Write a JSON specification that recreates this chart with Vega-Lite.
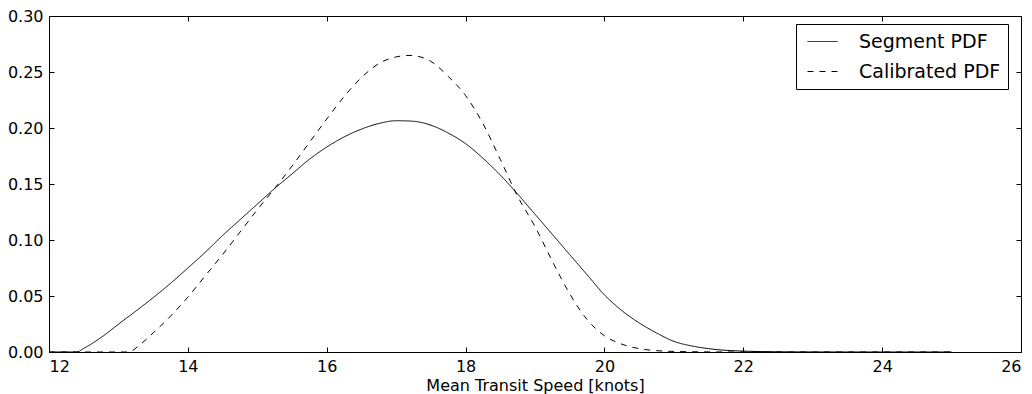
{
  "$schema": "https://vega.github.io/schema/vega-lite/v6.json",
  "width": 972,
  "height": 336,
  "autosize": "none",
  "padding": {"left": 49, "top": 16, "right": 11, "bottom": 42},
  "background": "white",
  "config": {
    "font": "DejaVu Sans",
    "view": {"stroke": "black", "strokeWidth": 1},
    "axis": {"grid": false, "domainColor": "black", "tickColor": "black", "labelColor": "black", "titleColor": "black", "labelFontSize": 16, "titleFontSize": 16, "titleFontWeight": "normal", "labelFont": "DejaVu Sans", "titleFont": "DejaVu Sans", "tickSize": -5, "labelPadding": 11}
  },
  "data": {"values": [
    {"x": 12.0, "y": 0, "s": "Segment PDF"},
    {"x": 12.4, "y": 0, "s": "Segment PDF"},
    {"x": 12.5, "y": 0.0032, "s": "Segment PDF"},
    {"x": 12.6, "y": 0.0068, "s": "Segment PDF"},
    {"x": 12.7, "y": 0.0108, "s": "Segment PDF"},
    {"x": 12.8, "y": 0.0152, "s": "Segment PDF"},
    {"x": 12.9, "y": 0.0199, "s": "Segment PDF"},
    {"x": 13.0, "y": 0.0248, "s": "Segment PDF"},
    {"x": 13.25, "y": 0.0365, "s": "Segment PDF"},
    {"x": 13.5, "y": 0.0485, "s": "Segment PDF"},
    {"x": 13.75, "y": 0.0613, "s": "Segment PDF"},
    {"x": 14.0, "y": 0.075, "s": "Segment PDF"},
    {"x": 14.25, "y": 0.089, "s": "Segment PDF"},
    {"x": 14.5, "y": 0.104, "s": "Segment PDF"},
    {"x": 14.75, "y": 0.118, "s": "Segment PDF"},
    {"x": 15.0, "y": 0.132, "s": "Segment PDF"},
    {"x": 15.25, "y": 0.146, "s": "Segment PDF"},
    {"x": 15.5, "y": 0.159, "s": "Segment PDF"},
    {"x": 15.75, "y": 0.172, "s": "Segment PDF"},
    {"x": 16.0, "y": 0.183, "s": "Segment PDF"},
    {"x": 16.25, "y": 0.192, "s": "Segment PDF"},
    {"x": 16.5, "y": 0.199, "s": "Segment PDF"},
    {"x": 16.75, "y": 0.204, "s": "Segment PDF"},
    {"x": 17.0, "y": 0.2065, "s": "Segment PDF"},
    {"x": 17.25, "y": 0.206, "s": "Segment PDF"},
    {"x": 17.5, "y": 0.2025, "s": "Segment PDF"},
    {"x": 17.75, "y": 0.1955, "s": "Segment PDF"},
    {"x": 18.0, "y": 0.186, "s": "Segment PDF"},
    {"x": 18.25, "y": 0.173, "s": "Segment PDF"},
    {"x": 18.5, "y": 0.158, "s": "Segment PDF"},
    {"x": 18.75, "y": 0.141, "s": "Segment PDF"},
    {"x": 19.0, "y": 0.123, "s": "Segment PDF"},
    {"x": 19.25, "y": 0.105, "s": "Segment PDF"},
    {"x": 19.5, "y": 0.087, "s": "Segment PDF"},
    {"x": 19.75, "y": 0.069, "s": "Segment PDF"},
    {"x": 20.0, "y": 0.051, "s": "Segment PDF"},
    {"x": 20.25, "y": 0.037, "s": "Segment PDF"},
    {"x": 20.5, "y": 0.026, "s": "Segment PDF"},
    {"x": 20.75, "y": 0.017, "s": "Segment PDF"},
    {"x": 21.0, "y": 0.0095, "s": "Segment PDF"},
    {"x": 21.25, "y": 0.0055, "s": "Segment PDF"},
    {"x": 21.5, "y": 0.003, "s": "Segment PDF"},
    {"x": 21.75, "y": 0.0015, "s": "Segment PDF"},
    {"x": 22.0, "y": 0.0008, "s": "Segment PDF"},
    {"x": 22.5, "y": 0.0002, "s": "Segment PDF"},
    {"x": 23.0, "y": 0.00005, "s": "Segment PDF"},
    {"x": 24.0, "y": 0, "s": "Segment PDF"},
    {"x": 25.0, "y": 0, "s": "Segment PDF"},
    {"x": 12.0, "y": 0, "s": "Calibrated PDF"},
    {"x": 13.15, "y": 0, "s": "Calibrated PDF"},
    {"x": 13.3, "y": 0.006, "s": "Calibrated PDF"},
    {"x": 13.5, "y": 0.017, "s": "Calibrated PDF"},
    {"x": 13.75, "y": 0.032, "s": "Calibrated PDF"},
    {"x": 14.0, "y": 0.049, "s": "Calibrated PDF"},
    {"x": 14.25, "y": 0.068, "s": "Calibrated PDF"},
    {"x": 14.5, "y": 0.087, "s": "Calibrated PDF"},
    {"x": 14.75, "y": 0.107, "s": "Calibrated PDF"},
    {"x": 15.0, "y": 0.127, "s": "Calibrated PDF"},
    {"x": 15.25, "y": 0.146, "s": "Calibrated PDF"},
    {"x": 15.5, "y": 0.166, "s": "Calibrated PDF"},
    {"x": 15.75, "y": 0.187, "s": "Calibrated PDF"},
    {"x": 16.0, "y": 0.208, "s": "Calibrated PDF"},
    {"x": 16.25, "y": 0.228, "s": "Calibrated PDF"},
    {"x": 16.5, "y": 0.245, "s": "Calibrated PDF"},
    {"x": 16.75, "y": 0.2575, "s": "Calibrated PDF"},
    {"x": 17.0, "y": 0.2635, "s": "Calibrated PDF"},
    {"x": 17.2, "y": 0.2648, "s": "Calibrated PDF"},
    {"x": 17.5, "y": 0.2595, "s": "Calibrated PDF"},
    {"x": 17.75, "y": 0.246, "s": "Calibrated PDF"},
    {"x": 18.0, "y": 0.229, "s": "Calibrated PDF"},
    {"x": 18.25, "y": 0.204, "s": "Calibrated PDF"},
    {"x": 18.5, "y": 0.172, "s": "Calibrated PDF"},
    {"x": 18.75, "y": 0.139, "s": "Calibrated PDF"},
    {"x": 19.0, "y": 0.112, "s": "Calibrated PDF"},
    {"x": 19.25, "y": 0.081, "s": "Calibrated PDF"},
    {"x": 19.5, "y": 0.052, "s": "Calibrated PDF"},
    {"x": 19.75, "y": 0.029, "s": "Calibrated PDF"},
    {"x": 20.0, "y": 0.0145, "s": "Calibrated PDF"},
    {"x": 20.25, "y": 0.007, "s": "Calibrated PDF"},
    {"x": 20.5, "y": 0.003, "s": "Calibrated PDF"},
    {"x": 20.75, "y": 0.0012, "s": "Calibrated PDF"},
    {"x": 21.0, "y": 0.0005, "s": "Calibrated PDF"},
    {"x": 21.5, "y": 0.0001, "s": "Calibrated PDF"},
    {"x": 22.0, "y": 0, "s": "Calibrated PDF"},
    {"x": 25.0, "y": 0, "s": "Calibrated PDF"}
  ]},
  "layer": [
    {
      "mark": {"type": "line", "color": "black", "strokeWidth": 1, "interpolate": "monotone", "clip": true},
      "encoding": {
        "x": {"field": "x", "type": "quantitative", "scale": {"domain": [12, 26], "nice": false, "zero": false}, "axis": {"values": [12, 14, 16, 18, 20, 22, 24, 26], "title": "Mean Transit Speed [knots]", "titlePadding": 3}},
        "y": {"field": "y", "type": "quantitative", "scale": {"domain": [0, 0.3], "nice": false}, "axis": {"values": [0, 0.05, 0.1, 0.15, 0.2, 0.25, 0.3], "format": ".2f", "title": null}},
        "strokeDash": {"field": "s", "type": "nominal", "scale": {"domain": ["Segment PDF", "Calibrated PDF"], "range": [[1, 0], [6, 6]]},
          "legend": {"title": null, "orient": "none", "legendX": 747, "legendY": 8, "strokeColor": "black", "fillColor": "white", "padding": 7, "labelFontSize": 19, "labelFont": "DejaVu Sans", "labelColor": "black", "symbolType": "M-1.5,0H1.5", "symbolSize": 400, "symbolStrokeWidth": 1, "symbolStrokeColor": "black", "symbolFillColor": "transparent", "symbolOffset": 9, "labelOffset": 26, "rowPadding": 9, "cornerRadius": 0}},
        "detail": {"field": "s"}
      }
    },
    {
      "mark": {"type": "line", "strokeOpacity": 0},
      "encoding": {
        "x": {"field": "x", "type": "quantitative", "axis": {"orient": "top", "values": [12, 14, 16, 18, 20, 22, 24, 26], "labels": false, "title": null, "domain": false}},
        "y": {"field": "y", "type": "quantitative", "axis": {"orient": "right", "values": [0, 0.05, 0.1, 0.15, 0.2, 0.25, 0.3], "labels": false, "title": null, "domain": false}},
        "detail": {"field": "s"}
      }
    }
  ],
  "resolve": {"axis": {"x": "independent", "y": "independent"}}
}
